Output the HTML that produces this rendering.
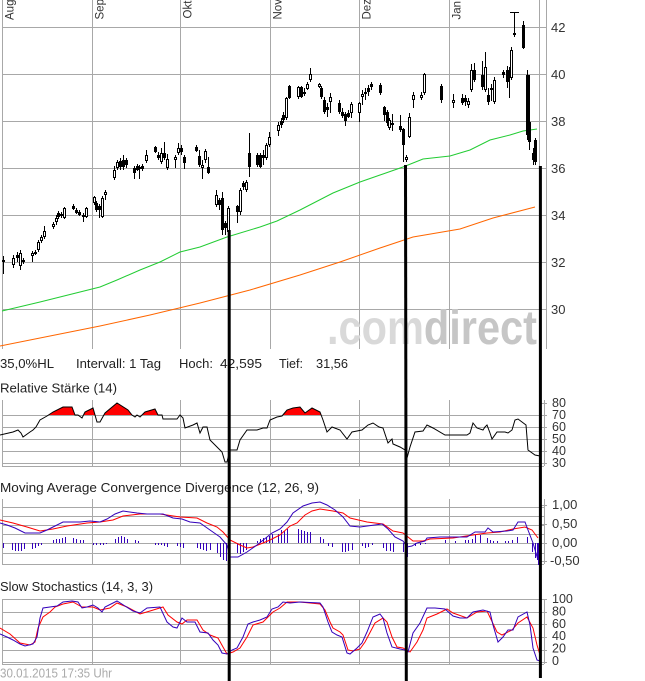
<!DOCTYPE html>
<html><head><meta charset="utf-8"><style>
html,body{margin:0;padding:0;background:#fff;width:645px;height:681px;overflow:hidden}
svg{display:block}
text{font-family:"Liberation Sans",Arial,sans-serif}
</style></head><body>
<svg width="645" height="681" viewBox="0 0 645 681" xmlns="http://www.w3.org/2000/svg">
<defs>
<clipPath id="cm"><rect x="0" y="0" width="546" height="349"/></clipPath>
<clipPath id="cr"><rect x="0" y="390" width="546" height="25"/></clipPath>
</defs>
<g stroke="#a8a8a8" stroke-width="1" shape-rendering="crispEdges" fill="none">
<path d="M2.5 0V349M92.5 0V349M180.5 0V349M270.5 0V349M359.5 0V349M449.5 0V349M539.5 0V349M546.5 0V349"/>
<path d="M2 27.5H546M2 74.5H546M2 121.5H546M2 168.5H546M2 215.5H546M2 262.5H546M2 309.5H546"/>
<path d="M2.5 400V466M92.5 400V466M180.5 400V466M270.5 400V466M359.5 400V466M449.5 400V466M539.5 400V466M544.5 400V466"/>
<path d="M2 415.5H544M2 427.5H544M2 439.5H544M2 451.5H544M2 463.5H544M2 466.5H544"/>
<path d="M541 403.5H547M541 415.5H547M541 427.5H547M541 439.5H547M541 451.5H547M541 463.5H547"/>
<path d="M2.5 499V564M92.5 499V564M180.5 499V564M270.5 499V564M359.5 499V564M449.5 499V564M539.5 499V564M544.5 499V564"/>
<path d="M2 507.5H544M2 516.5H544M2 525.5H544M2 534.5H544M2 543.5H544M2 553.5H544M2 564.5H544"/>
<path d="M541 505.5H547M541 524.5H547M541 543.5H547M541 561.5H547"/>
<path d="M2.5 599V664M92.5 599V664M180.5 599V664M270.5 599V664M359.5 599V664M449.5 599V664M539.5 599V664M544.5 599V664"/>
<path d="M2 599.5H544M2 612.5H544M2 624.5H544M2 637.5H544M2 650.5H544M2 662.5H544M2 664.5H544"/>
<path d="M541 599.5H547M541 612.5H547M541 624.5H547M541 637.5H547M541 650.5H547M541 662.5H547"/>
</g>
<!-- month labels -->
<g font-size="11.5" fill="#333">
<text transform="translate(13.5,20) rotate(-90)">Aug</text>
<text transform="translate(103.5,19.5) rotate(-90)">Sep</text>
<text transform="translate(191.5,18.5) rotate(-90)">Okt</text>
<text transform="translate(281.5,19.5) rotate(-90)">Nov</text>
<text transform="translate(370.5,19.5) rotate(-90)">Dez</text>
<text transform="translate(460.5,19.5) rotate(-90)">Jan</text>
</g>
<!-- watermark -->
<text x="327" y="344" font-size="48" font-weight="bold" textLength="210" lengthAdjust="spacingAndGlyphs"><tspan fill="#d9d9d9">.com</tspan><tspan fill="#c6c6c6">direct</tspan></text>
<g clip-path="url(#cm)">
<polyline fill="none" stroke="#ff6600" stroke-width="1" points="0,346 50,336 100,326 150,315 200,303 250,290 300,275 340,262 380,248 413,237 460,229 493,218 535,207"/>
<polyline fill="none" stroke="#22cc33" stroke-width="1" points="2,311 40,302 80,292 100,287 117,280 140,270 160,262 180,252 200,247 227,237 260,227 277,221 300,210 333,193 360,182 403,167 423,159 450,156 470,150 490,140 510,135 523,131 537,129"/>
<path stroke="#000" stroke-width="1" fill="none" shape-rendering="crispEdges" d="M3.5 256V274M13.5 255V268M17.5 252V262M20.5 250V270M23.5 258V264M32.5 251V262M35.5 250V255M38.5 240V252M41.5 235V243M44.5 226V239M53.5 222V229M56.5 215V225M58.5 211V219M61.5 212V218M64.5 207V219M73.5 204V210M76.5 208V214M79.5 210V216M83.5 213V222M86.5 207V218M94.5 196V205M96.5 201V212M99.5 204V218M102.5 196V218M105.5 190V200M114.5 166V180M117.5 160V170M120.5 158V170M123.5 155V170M126.5 158V168M134.5 166V179M137.5 164V171M139.5 165V179M142.5 164V171M146.5 150V163M155.5 146V153M158.5 152V160M161.5 148V164M164.5 142V160M167.5 154V170M175.5 155V168M178.5 143V155M181.5 145V155M184.5 155V169M196.5 145V152M199.5 150V167M202.5 160V179M205.5 149V163M208.5 157V174M216.5 190V207M219.5 198V210M222.5 192V235M225.5 221V235M228.5 206V238M237.5 205V223M240.5 188V215M243.5 181V190M246.5 180V192M249.5 133V177M257.5 153V167M260.5 153V168M263.5 150V165M266.5 143V160M269.5 132V147M278.5 122V136M281.5 118V128M283.5 112V123M286.5 97V120M289.5 85V99M298.5 86V99M301.5 86V98M304.5 88V96M307.5 82V90M310.5 68V82M319.5 83V88M321.5 86V99M324.5 97V114M327.5 103V117M330.5 93V113M339.5 100V114M342.5 108V118M345.5 112V126M348.5 110V118M351.5 102V118M359.5 102V122M362.5 90V105M365.5 88V100M368.5 85V96M371.5 82V90M380.5 83V95M384.5 106V121M387.5 110V126M389.5 118V130M392.5 114V131M400.5 115V132M403.5 128V162M406.5 155V162M409.5 113V138M413.5 92V108M421.5 92V100M424.5 73V95M441.5 84V103M453.5 94V108M462.5 94V105M465.5 95V106M468.5 98V108M471.5 64V92M474.5 63V82M482.5 61V90M485.5 52V92M488.5 88V105M491.5 84V101M494.5 77V104M503.5 70V78M507.5 66V88M509.5 67V98M511.5 47V80M514.5 12V37M510 12.5H519M523.5 21V49M527.5 70V140M529.5 120V150M533.5 148V165M535.5 138V165"/>
<g fill="#000" shape-rendering="crispEdges">
<rect x="2" y="260" width="3" height="2"/><rect x="16" y="255" width="3" height="3"/><rect x="22" y="260" width="3" height="2"/><rect x="34" y="252" width="3" height="2"/><rect x="57" y="213" width="3" height="4"/><rect x="60" y="214" width="3" height="2"/><rect x="72" y="206" width="3" height="3"/><rect x="75" y="210" width="3" height="3"/><rect x="78" y="212" width="3" height="3"/><rect x="82" y="215" width="3" height="2"/><rect x="95" y="203" width="3" height="7"/><rect x="98" y="206" width="3" height="4"/><rect x="119" y="161" width="3" height="6"/><rect x="122" y="160" width="3" height="7"/><rect x="125" y="160" width="3" height="5"/><rect x="133" y="168" width="3" height="5"/><rect x="136" y="166" width="3" height="4"/><rect x="141" y="166" width="3" height="3"/><rect x="154" y="147" width="3" height="5"/><rect x="157" y="155" width="3" height="3"/><rect x="163" y="153" width="3" height="5"/><rect x="180" y="148" width="3" height="4"/><rect x="183" y="157" width="3" height="6"/><rect x="195" y="147" width="3" height="4"/><rect x="198" y="156" width="3" height="9"/><rect x="207" y="167" width="3" height="6"/><rect x="218" y="200" width="3" height="5"/><rect x="221" y="198" width="3" height="32"/><rect x="224" y="223" width="3" height="5"/><rect x="236" y="206" width="3" height="6"/><rect x="242" y="183" width="3" height="4"/><rect x="248" y="153" width="3" height="14"/><rect x="256" y="155" width="3" height="10"/><rect x="259" y="155" width="3" height="12"/><rect x="262" y="155" width="3" height="3"/><rect x="280" y="121" width="3" height="4"/><rect x="282" y="115" width="3" height="5"/><rect x="288" y="86" width="3" height="12"/><rect x="300" y="87" width="3" height="10"/><rect x="303" y="92" width="3" height="2"/><rect x="320" y="88" width="3" height="9"/><rect x="323" y="100" width="3" height="12"/><rect x="326" y="107" width="3" height="3"/><rect x="338" y="103" width="3" height="9"/><rect x="341" y="112" width="3" height="4"/><rect x="344" y="114" width="3" height="7"/><rect x="347" y="113" width="3" height="4"/><rect x="364" y="92" width="3" height="2"/><rect x="367" y="88" width="3" height="4"/><rect x="370" y="84" width="3" height="3"/><rect x="379" y="85" width="3" height="8"/><rect x="383" y="107" width="3" height="8"/><rect x="386" y="112" width="3" height="11"/><rect x="391" y="123" width="3" height="2"/><rect x="399" y="126" width="3" height="4"/><rect x="402" y="129" width="3" height="16"/><rect x="440" y="86" width="3" height="14"/><rect x="461" y="98" width="3" height="5"/><rect x="464" y="98" width="3" height="4"/><rect x="473" y="70" width="3" height="10"/><rect x="481" y="75" width="3" height="12"/><rect x="487" y="95" width="3" height="7"/><rect x="490" y="88" width="3" height="2"/><rect x="502" y="72" width="3" height="3"/><rect x="506" y="70" width="3" height="12"/><rect x="508" y="70" width="3" height="8"/><rect x="522" y="25" width="3" height="23"/><rect x="526" y="75" width="4" height="60"/><rect x="528" y="122" width="3" height="20"/><rect x="532" y="153" width="3" height="7"/><rect x="534" y="140" width="3" height="22"/>
</g>
<g fill="#fff" stroke="#000" stroke-width="1" shape-rendering="crispEdges">
<rect x="12.5" y="258.5" width="2" height="6"/><rect x="19.5" y="253.5" width="2" height="12"/><rect x="31.5" y="253.5" width="2" height="2"/><rect x="37.5" y="242.5" width="2" height="7"/><rect x="40.5" y="237.5" width="2" height="3"/><rect x="43.5" y="231.5" width="2" height="5"/><rect x="52.5" y="224.5" width="2" height="2"/><rect x="55.5" y="218.5" width="2" height="3"/><rect x="63.5" y="208.5" width="2" height="9"/><rect x="85.5" y="208.5" width="2" height="8"/><rect x="93.5" y="197.5" width="2" height="5"/><rect x="101.5" y="198.5" width="2" height="18"/><rect x="104.5" y="192.5" width="2" height="2"/><rect x="113.5" y="170.5" width="2" height="7"/><rect x="116.5" y="162.5" width="2" height="5"/><rect x="138.5" y="167.5" width="2" height="1"/><rect x="145.5" y="155.5" width="2" height="5"/><rect x="160.5" y="153.5" width="2" height="8"/><rect x="166.5" y="159.5" width="2" height="8"/><rect x="174.5" y="157.5" width="2" height="2"/><rect x="177.5" y="148.5" width="2" height="4"/><rect x="201.5" y="165.5" width="2" height="2"/><rect x="204.5" y="151.5" width="2" height="8"/><rect x="215.5" y="195.5" width="2" height="9"/><rect x="227.5" y="208.5" width="2" height="23"/><rect x="239.5" y="190.5" width="2" height="21"/><rect x="245.5" y="182.5" width="2" height="7"/><rect x="265.5" y="145.5" width="2" height="12"/><rect x="268.5" y="137.5" width="2" height="7"/><rect x="277.5" y="125.5" width="2" height="5"/><rect x="285.5" y="98.5" width="2" height="19"/><rect x="297.5" y="87.5" width="2" height="9"/><rect x="306.5" y="84.5" width="2" height="4"/><rect x="309.5" y="74.5" width="2" height="5"/><rect x="318.5" y="84.5" width="2" height="2"/><rect x="329.5" y="97.5" width="2" height="4"/><rect x="350.5" y="104.5" width="2" height="8"/><rect x="358.5" y="103.5" width="2" height="9"/><rect x="361.5" y="94.5" width="2" height="2"/><rect x="388.5" y="120.5" width="2" height="7"/><rect x="405.5" y="157.5" width="2" height="2"/><rect x="408.5" y="117.5" width="2" height="19"/><rect x="412.5" y="95.5" width="2" height="4"/><rect x="420.5" y="95.5" width="2" height="2"/><rect x="423.5" y="74.5" width="2" height="18"/><rect x="452.5" y="100.5" width="2" height="2"/><rect x="467.5" y="101.5" width="2" height="3"/><rect x="470.5" y="70.5" width="2" height="19"/><rect x="484.5" y="67.5" width="2" height="22"/><rect x="493.5" y="80.5" width="2" height="21"/><rect x="510.5" y="50.5" width="2" height="27"/><rect x="513.5" y="33.5" width="2" height="1"/>
</g>
</g>
<!-- main axis labels -->
<g font-size="13" fill="#333">
<text x="551" y="32">42</text><text x="551" y="79">40</text><text x="551" y="126">38</text><text x="551" y="173">36</text><text x="551" y="220">34</text><text x="551" y="267">32</text><text x="551" y="314">30</text>
</g>
<!-- info row -->
<g font-size="13" fill="#222">
<text x="0" y="368" textLength="54" lengthAdjust="spacingAndGlyphs">35,0%HL</text>
<text x="76" y="368" textLength="85" lengthAdjust="spacingAndGlyphs">Intervall: 1 Tag</text>
<text x="179" y="368" textLength="34" lengthAdjust="spacingAndGlyphs">Hoch:</text>
<text x="220" y="368" textLength="42" lengthAdjust="spacingAndGlyphs">42,595</text>
<text x="279" y="368" textLength="24" lengthAdjust="spacingAndGlyphs">Tief:</text>
<text x="316" y="368" textLength="32" lengthAdjust="spacingAndGlyphs">31,56</text>
<text x="0" y="392.5" textLength="117" lengthAdjust="spacingAndGlyphs">Relative Stärke (14)</text>
<text x="0" y="492" textLength="319" lengthAdjust="spacingAndGlyphs">Moving Average Convergence Divergence (12, 26, 9)</text>
<text x="0" y="591" textLength="153" lengthAdjust="spacingAndGlyphs">Slow Stochastics (14, 3, 3)</text>
</g>
<text x="0" y="677.5" font-size="13" fill="#aaa" textLength="112" lengthAdjust="spacingAndGlyphs">30.01.2015 17:35 Uhr</text>
<!-- RSI -->
<polygon clip-path="url(#cr)" fill="#ff0000" points="0,435 13,432 18,430 21,433 23,437 30,432 33,430 36,427 40,420 47,416 53,412 63,407 72,407 75,415 78,415 82,418 85,412 93,408 97,422 100,422 105,413 117,403 128,410 132,415 135,417 137,415 140,417 145,412 155,409 158,415 162,415 163,419 167,419 177,419 180,415 183,418 185,428 193,425 197,423 200,433 203,427 207,427 210,440 222,452 225,462 227,462 230,450 237,450 240,440 247,430 257,430 263,428 267,428 270,420 277,417 282,416 287,410 293,408 300,407 305,413 312,408 320,412 323,420 327,432 540,456 540,415 0,415"/>
<polyline fill="none" stroke="#000" stroke-width="1" points="0,435 13,432 18,430 21,433 23,437 30,432 33,430 36,427 40,420 47,416 53,412 63,407 72,407 75,415 78,415 82,418 85,412 93,408 97,422 100,422 105,413 117,403 128,410 132,415 135,417 137,415 140,417 145,412 155,409 158,415 162,415 163,419 167,419 177,419 180,415 183,418 185,428 193,425 197,423 200,433 203,427 207,427 210,440 222,452 225,462 227,462 230,450 237,450 240,440 247,430 257,430 263,428 267,428 270,420 277,417 282,416 287,410 293,408 300,407 305,413 312,408 320,412 323,420 327,432 332,427 340,430 347,439 352,432 357,431 362,430 368,425 373,423 379,427 383,428 387,440 388,443 392,439 393,444 400,447 405,450 407,458 410,447 415,432 423,431 427,425 433,428 445,435 467,435 470,433 473,423 477,428 483,430 485,427 487,425 490,433 492,439 497,432 505,432 508,433 512,430 515,420 518,419 526,425 528,450 535,455 540,456"/>
<g font-size="12.5" fill="#333">
<text x="552" y="407">80</text><text x="552" y="419">70</text><text x="552" y="431">60</text><text x="552" y="443">50</text><text x="552" y="455">40</text><text x="552" y="467">30</text>
</g>
<!-- MACD -->
<path stroke="#3300bb" stroke-width="1" fill="none" shape-rendering="crispEdges" d="M3.5 543V548M12.5 543V550M15.5 543V551M18.5 543V551M21.5 543V551M24.5 543V549M32.5 543V549M35.5 543V548M38.5 543V546M41.5 543V545M53.5 543V540M56.5 543V539M59.5 543V539M62.5 543V538M65.5 543V537M73.5 543V538M76.5 543V539M80.5 543V540M83.5 543V540M93.5 543V545M96.5 543V545M100.5 543V545M103.5 543V545M106.5 543V544M115.5 543V539M118.5 543V537M121.5 543V536M124.5 543V537M127.5 543V539M135.5 543V540M138.5 543V541M155.5 543V545M158.5 543V545M161.5 543V545M164.5 543V546M167.5 543V547M177.5 543V546M180.5 543V547M183.5 543V548M197.5 543V548M200.5 543V549M203.5 543V550M206.5 543V551M210.5 543V550M217.5 543V553M220.5 543V557M223.5 543V560M226.5 543V561M237.5 543V553M240.5 543V554M243.5 543V552M246.5 543V550M257.5 543V541M260.5 543V539M263.5 543V538M266.5 543V537M269.5 543V536M272.5 543V534M278.5 543V534M281.5 543V530M284.5 543V531M287.5 543V529M298.5 543V529M301.5 543V530M304.5 543V531M307.5 543V532M310.5 543V532M320.5 543V537M323.5 543V539M328.5 543V546M332.5 543V547M342.5 543V552M345.5 543V552M348.5 543V551M352.5 543V550M362.5 543V546M365.5 543V548M368.5 543V547M372.5 543V545M383.5 543V548M386.5 543V551M390.5 543V551M393.5 543V552M403.5 543V552M407.5 543V557M415.5 543V546M420.5 543V545M425.5 543V544M445.5 543V540M455.5 543V541M465.5 543V540M468.5 543V540M472.5 543V539M475.5 543V535M480.5 543V535M487.5 543V538M490.5 543V540M493.5 543V541M497.5 543V541M505.5 543V541M508.5 543V541M512.5 543V540M517.5 543V537M527.5 543V537M532.5 543V552M535.5 543V558M537.5 543V560M538.5 543V565"/>
<polyline fill="none" stroke="#ff0000" stroke-width="1" points="0,520 13,523 27,527 40,531 53,529 67,526 87,523 100,522 113,520 123,516 140,514 160,514 180,517 197,518 207,523 217,527 223,532 230,540 240,545 247,548 253,547 263,543 270,540 280,535 290,526 297,523 305,515 312,511 320,509 333,511 343,513 350,518 367,522 383,524 393,531 403,533 413,541 423,541 430,539 453,538 473,535 487,533 500,532 513,529 525,527 532,530 538,538"/>
<polyline fill="none" stroke="#3300bb" stroke-width="1" points="0,523 7,525 15,528 25,533 33,533 40,533 47,530 53,527 63,522 80,522 90,521 100,522 107,519 115,514 123,511 137,513 147,514 163,514 173,518 182,519 190,522 200,523 210,530 220,537 227,545 230,557 238,557 247,552 257,545 267,537 272,533 280,529 287,522 293,513 303,506 312,503 320,502 327,505 335,510 343,517 350,526 360,527 382,524 388,529 395,537 403,541 407,547 412,546 417,543 425,541 427,538 440,537 467,537 475,532 485,532 488,528 493,532 507,531 513,530 518,522 525,522 528,530 533,543 538,560"/>
<g font-size="13" fill="#333">
<text x="552" y="509">1,00</text><text x="552" y="528">0,50</text><text x="552" y="547">0,00</text><text x="550" y="565">-0,50</text>
</g>
<!-- Stochastics -->
<polyline fill="none" stroke="#ff0000" stroke-width="1" points="0,628 10,634 20,643 30,645 35,642 38,628 43,617 50,612 55,607 63,604 73,602 82,607 93,607 100,610 110,608 117,603 127,607 140,614 150,611 163,607 168,615 177,622 182,624 187,620 197,620 203,630 210,635 218,638 223,647 227,654 233,652 240,648 247,637 253,625 263,622 273,612 280,608 287,602 300,602 320,604 325,610 330,622 333,628 340,632 343,635 348,650 353,651 360,649 365,642 375,623 383,618 387,622 392,637 397,647 403,648 410,652 417,642 423,630 427,618 437,614 447,609 453,613 467,618 477,612 487,611 497,632 502,635 512,630 518,623 527,617 533,628 537,645 540,655"/>
<polyline fill="none" stroke="#3300bb" stroke-width="1" points="0,634 7,637 13,640 20,644 25,646 33,644 37,637 40,618 43,608 50,607 57,606 63,602 72,601 78,602 82,608 87,607 93,605 98,608 102,612 105,607 117,601 125,606 133,611 140,613 147,608 160,607 167,622 173,627 177,628 182,618 187,622 195,622 200,632 208,633 213,640 218,645 222,653 227,654 232,650 237,648 243,637 248,624 253,622 260,620 267,617 272,609 278,607 283,602 290,603 300,602 320,603 323,607 328,622 332,632 337,635 342,637 347,653 350,654 357,648 362,643 367,632 373,617 380,614 383,618 387,633 392,647 400,649 405,650 408,652 413,633 420,623 427,608 435,608 445,609 453,616 460,618 467,618 473,612 483,610 490,612 493,625 498,642 503,637 508,630 513,630 518,617 527,612 530,625 533,648 537,660 540,661"/>
<g font-size="12.5" fill="#333">
<text x="552" y="603">100</text><text x="552" y="615.5">80</text><text x="552" y="628">60</text><text x="552" y="640">40</text><text x="552" y="652.5">20</text><text x="552" y="665">0</text>
</g>
<!-- drawn trend lines -->
<g stroke="#000" stroke-width="3" fill="none">
<line x1="229.2" y1="230" x2="229.2" y2="681"/>
<line x1="405.5" y1="165" x2="406.3" y2="681"/>
<line x1="540.4" y1="166" x2="540.4" y2="678"/>
</g>
</svg>
</body></html>
